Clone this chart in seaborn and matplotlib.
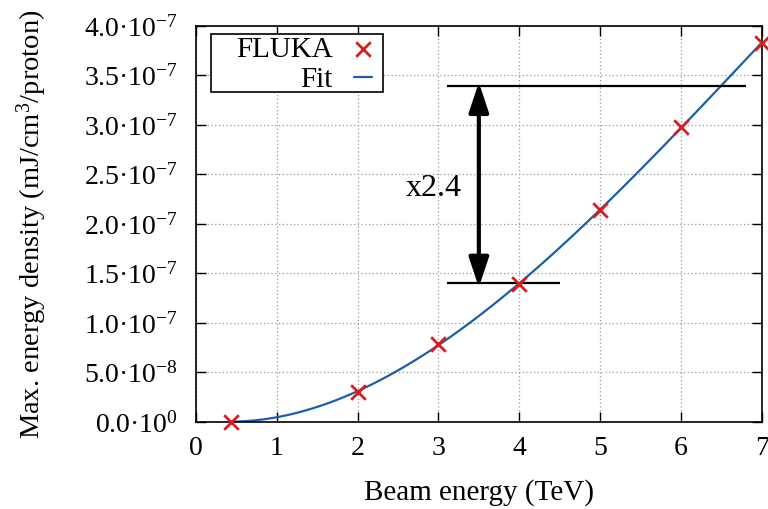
import numpy as np
import pandas as pd
import matplotlib
matplotlib.use("Agg")
import matplotlib.pyplot as plt
from matplotlib.patches import Rectangle
import seaborn as sns

# Data
energy_tev = [0.43, 2, 3, 4, 5, 6, 7]
edep = [0.03e-8, 3.06e-8, 7.9e-8, 1.39e-7, 2.14e-7, 2.98e-7, 3.83e-7]
y_ticks = [0, 0.5e-7, 1.0e-7, 1.5e-7, 2.0e-7, 2.5e-7, 3.0e-7, 3.5e-7, 4.0e-7]
y_ticklabels = [r"0.0·10$^{0}$", r"5.0·10$^{-8}$", r"1.0·10$^{-7}$", r"1.5·10$^{-7}$",
                r"2.0·10$^{-7}$", r"2.5·10$^{-7}$", r"3.0·10$^{-7}$", r"3.5·10$^{-7}$",
                r"4.0·10$^{-7}$"]
x_ticks = [0, 1, 2, 3, 4, 5, 6, 7]
ratio_low = 1.40e-7
ratio_high = 3.39e-7
ratio_text = "x2.4"

df = pd.DataFrame({"E": energy_tev, "D": edep})

sns.set_style("ticks")
plt.rcParams["font.family"] = ["Liberation Serif", "DejaVu Serif"]
plt.rcParams["mathtext.fontset"] = "custom"
plt.rcParams["mathtext.rm"] = "Liberation Serif"
plt.rcParams["mathtext.it"] = "Liberation Serif:italic"
plt.rcParams["mathtext.bf"] = "Liberation Serif:bold"
plt.rcParams["text.color"] = "black"
plt.rcParams["axes.labelcolor"] = "black"

fig = plt.figure(figsize=(7.68, 5.09), dpi=100)
ax = fig.add_axes([0.255, 0.171, 0.737, 0.778])

red = "#d81e1e"
blue = "#1a5fa8"

sns.regplot(data=df, x="E", y="D", order=3, ci=None, scatter=False, ax=ax,
            label="Fit", line_kws=dict(color=blue, lw=1.6))
sns.scatterplot(data=df, x="E", y="D", marker="x", color=red, s=110,
                linewidth=2.0, ax=ax, label="FLUKA", zorder=5, clip_on=False)

ax.set_xlim(0, 7)
ax.set_ylim(0, 4e-7)
ax.set_xticks(x_ticks)
ax.set_xticklabels([str(t) for t in x_ticks])
ax.set_yticks(y_ticks)
ax.set_yticklabels(y_ticklabels)
ax.tick_params(axis="both", which="both", direction="in", top=True, right=True,
               length=7, width=1, labelsize=20, colors="black",
               labelcolor="black")
ax.tick_params(axis="y", pad=13)
ax.tick_params(axis="x", pad=10)
ax.grid(True, linestyle=(0, (1, 2)), color="#999999", lw=0.9)
for s in ax.spines.values():
    s.set_visible(True)
    s.set_color("black")
    s.set_linewidth(1.2)

ax.set_xlabel("Beam energy (TeV)", fontsize=21, labelpad=13)
ax.set_ylabel("Max. energy density (mJ/cm$^{3}$/proton)", fontsize=20.5, labelpad=25)

# Ratio annotation
ax.hlines(ratio_high, 3.1, 6.8, color="black", lw=1.6, zorder=4)
ax.hlines(ratio_low, 3.1, 4.5, color="black", lw=1.6, zorder=4)
ax.annotate("", xy=(3.5, ratio_low - 0.04e-7), xytext=(3.5, ratio_high + 0.04e-7),
            arrowprops=dict(arrowstyle="<|-|>,head_length=0.9,head_width=0.3",
                            lw=3, color="black", shrinkA=0, shrinkB=0,
                            mutation_scale=20), zorder=4)
ax.text(2.94, 2.36e-7, ratio_text, fontsize=23, ha="center", va="center")

# Legend (content without frame, frame drawn as a box)
handles, labels = ax.get_legend_handles_labels()
order = [labels.index("FLUKA"), labels.index("Fit")]
leg = ax.legend([handles[i] for i in order], [labels[i] for i in order],
                loc="center right", bbox_to_anchor=(0.311, 0.902), markerfirst=False,
                frameon=False, fontsize=21,
                handlelength=0.6, borderpad=0.0, labelspacing=0.14,
                handletextpad=0.75, borderaxespad=0.0)
leg.set_zorder(6)
ax.add_patch(Rectangle((0.0265, 0.833), 0.3035, 0.147, transform=ax.transAxes,
                       facecolor="white", edgecolor="black", lw=1.2, zorder=5.5))

fig.savefig("out.png", dpi=100)
